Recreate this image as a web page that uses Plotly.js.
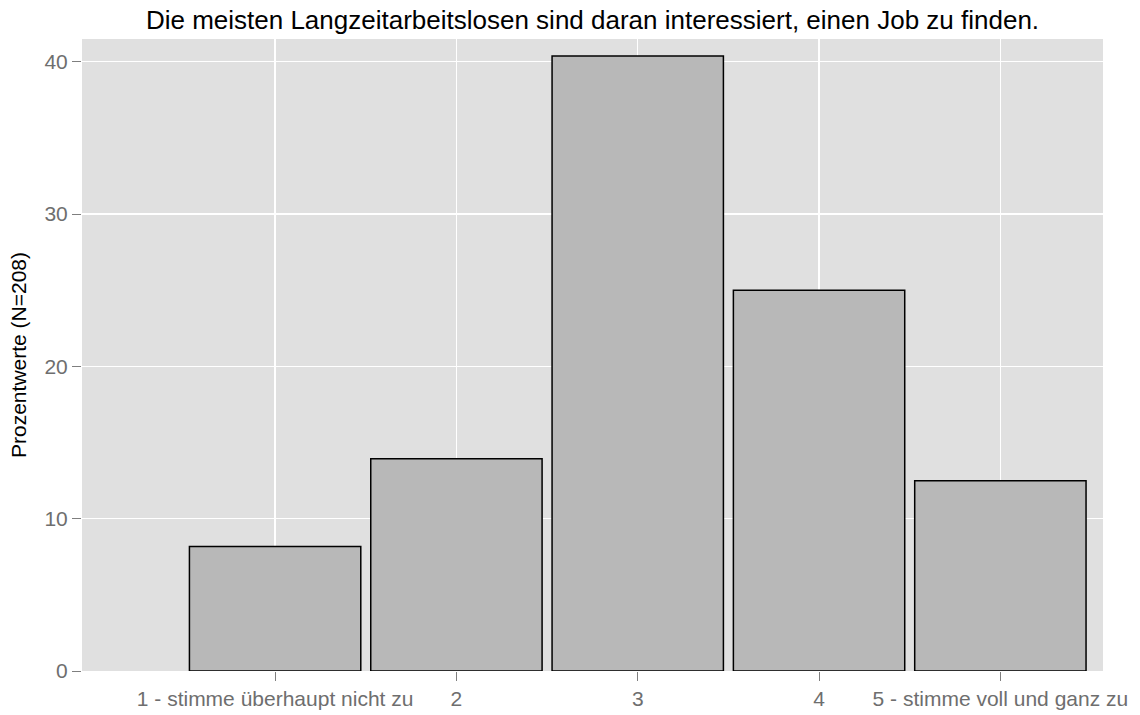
<!DOCTYPE html>
<html>
<head>
<meta charset="utf-8">
<script src="https://cdn.plot.ly/plotly-3.0.1.min.js"></script>
<style>html,body{margin:0;padding:0;background:#fff;}#chart{width:1140px;height:715px;}</style>
</head>
<body>
<div id="chart"></div>
<script>
const categories = ["1 - stimme überhaupt nicht zu", "2", "3", "4", "5 - stimme voll und ganz zu"];
const counts = [17, 29, 84, 52, 26];
const totalN = 208;
const percentValues = counts.map(c => c / totalN * 100);
const yTickVals = [0, 10, 20, 30, 40];
const titleText = "Die meisten Langzeitarbeitslosen sind daran interessiert, einen Job zu finden.";
const yTitleText = "Prozentwerte (N=208)";

const trace = {
  type: 'bar',
  x: categories,
  y: percentValues,
  width: 0.945,
  marker: {color: '#b8b8b8', line: {color: '#000000', width: 1.5}},
  hoverinfo: 'x+y'
};

const layout = {
  width: 1140, height: 715,
  margin: {l: 82, r: 37, t: 39, b: 44, pad: 0},
  paper_bgcolor: '#ffffff',
  plot_bgcolor: '#e0e0e0',
  font: {family: 'Liberation Sans, Arial, sans-serif', size: 21, color: '#7f7f7f'},
  title: {text: titleText, x: 0.5, xref: 'paper', y: 0.972, yref: 'container', yanchor: 'middle',
          font: {family: 'Liberation Sans, Arial, sans-serif', size: 26, color: '#000000'}},
  showlegend: false,
  xaxis: {
    type: 'category',
    range: [-1.065, 4.566],
    showgrid: true, gridcolor: '#ffffff', gridwidth: 1.3,
    zeroline: false, showline: false,
    ticks: 'outside', ticklen: 9, tickcolor: '#7f7f7f', tickwidth: 1,
    tickfont: {size: 21, color: '#6e6e6e'},
    fixedrange: true
  },
  yaxis: {
    range: [0, 41.5],
    tickvals: yTickVals,
    showgrid: true, gridcolor: '#ffffff', gridwidth: 1.3,
    zeroline: false, showline: false,
    ticks: 'outside', ticklen: 9, tickcolor: '#7f7f7f', tickwidth: 1,
    tickfont: {size: 21, color: '#6e6e6e'},
    title: {text: yTitleText, font: {size: 21, color: '#000000'}, standoff: 12},
    fixedrange: true
  },
  bargap: 0.055
};

Plotly.newPlot('chart', [trace], layout, {displayModeBar: false, staticPlot: true});
</script>
</body>
</html>
